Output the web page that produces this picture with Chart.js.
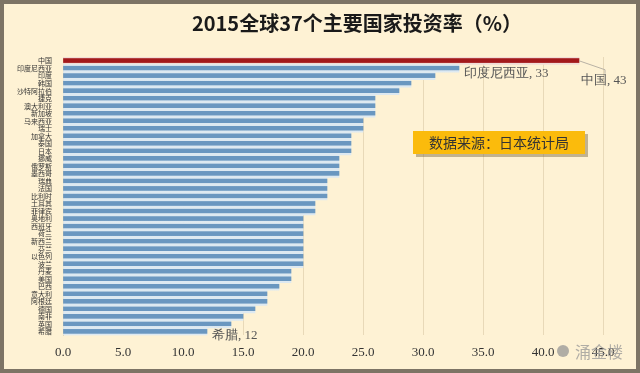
<!DOCTYPE html>
<html>
<head>
<meta charset="utf-8">
<script src="https://cdn.jsdelivr.net/npm/chart.js@4.4.1/dist/chart.umd.min.js"></script>
<style>
  html, body { margin: 0; padding: 0; background: #fef2d4; }
  #wrap { width: 640px; height: 373px; position: relative; }
</style>
</head>
<body>
<div id="wrap"><canvas id="barChart"></canvas></div>
<script>
const countries = ['中国', '印度尼西亚', '印度', '韩国', '沙特阿拉伯', '捷克', '澳大利亚', '新加坡', '马来西亚', '瑞士',
  '加拿大', '泰国', '日本', '挪威', '俄罗斯', '墨西哥', '瑞典', '法国', '比利时', '土耳其',
  '菲律宾', '奥地利', '西班牙', '荷兰', '新西兰', '芬兰', '以色列', '波兰', '丹麦', '美国',
  '巴西', '意大利', '阿根廷', '德国', '南非', '英国', '希腊']
const investRate = [43, 33, 31, 29, 28, 26, 26, 26, 25, 25,
  24, 24, 24, 23, 23, 23, 22, 22, 22, 21,
  21, 20, 20, 20, 20, 20, 20, 20, 19, 19,
  18, 17, 17, 16, 15, 14, 12]
const xTicks = [0, 5, 10, 15, 20, 25, 30, 35, 40, 45]
const labelled = [0, 1, 36]   // bars that carry a data label

const serif = '"Liberation Serif", "DejaVu Serif", serif'
const cjk = '"Noto Sans CJK SC", sans-serif'

// cylinder-like fill: light edges, blue core
function barFill(context) {
  const chart = context.chart
  const red = context.dataIndex === 0
  const core = red ? '#a3191b' : '#6a97c0'
  const edge = red ? '#f1ddd6' : '#dde9f1'
  const y = chart.scales.y
  if (!chart.chartArea || !y) return core
  const c = y.getPixelForValue(context.dataIndex)
  const h = Math.abs(y.getPixelForValue(1) - y.getPixelForValue(0))
  const g = chart.ctx.createLinearGradient(0, c - h / 2, 0, c + h / 2)
  g.addColorStop(0, edge)
  g.addColorStop(0.12, edge)
  g.addColorStop(0.22, core)
  g.addColorStop(0.72, core)
  g.addColorStop(0.82, edge)
  g.addColorStop(1, edge)
  return g
}

const decor = {
  id: 'decor',
  beforeDraw(chart) {
    const ctx = chart.ctx
    ctx.save()
    ctx.fillStyle = '#fef2d4'
    ctx.fillRect(0, 0, chart.width, chart.height)
    ctx.strokeStyle = '#7d7465'
    ctx.lineWidth = 4
    ctx.strokeRect(2, 2, chart.width - 4, chart.height - 4)
    ctx.restore()
  },
  afterDraw(chart) {
    const ctx = chart.ctx
    const meta = chart.getDatasetMeta(0)
    ctx.save()
    // title
    ctx.fillStyle = '#1a1a1a'
    ctx.font = 'bold 20px ' + cjk
    ctx.textAlign = 'center'
    ctx.textBaseline = 'middle'
    ctx.fillText('2015全球37个主要国家投资率（%）', 357, 23)

    // data labels
    ctx.font = '13px ' + serif
    ctx.fillStyle = '#555'
    ctx.textAlign = 'left'
    const cn = meta.data[labelled[0]]
    ctx.strokeStyle = '#b9b2a5'
    ctx.lineWidth = 1
    ctx.beginPath()
    ctx.moveTo(cn.x, cn.y)
    ctx.lineTo(cn.x + 26, cn.y + 9)
    ctx.lineTo(cn.x + 26, cn.y + 13)
    ctx.stroke()
    ctx.fillText(countries[labelled[0]] + ', ' + investRate[labelled[0]], cn.x + 2, cn.y + 20)
    const id = meta.data[labelled[1]]
    ctx.fillText(countries[labelled[1]] + ', ' + investRate[labelled[1]], id.x + 5, id.y + 5)
    const gr = meta.data[labelled[2]]
    ctx.fillText(countries[labelled[2]] + ', ' + investRate[labelled[2]], gr.x + 5, gr.y + 4)

    // source box
    ctx.fillStyle = 'rgba(120,100,60,0.45)'
    ctx.fillRect(416, 134, 172, 23)
    ctx.fillStyle = '#fbbb0c'
    ctx.fillRect(413, 131, 172, 23)
    ctx.fillStyle = '#333'
    ctx.font = '14px ' + cjk
    ctx.textAlign = 'center'
    ctx.fillText('数据来源：日本统计局', 499, 143)

    // watermark
    ctx.fillStyle = 'rgba(150,150,150,0.75)'
    ctx.beginPath()
    ctx.arc(563, 351, 6, 0, Math.PI * 2)
    ctx.fill()
    ctx.font = '16px ' + cjk
    ctx.textAlign = 'left'
    ctx.fillText('涌金楼', 575, 352)
    ctx.restore()
  }
}

const chart = new Chart(document.getElementById('barChart'), {
  type: 'bar',
  data: {
    labels: countries,
    datasets: [{
      data: investRate,
      backgroundColor: barFill,
      barPercentage: 1,
      categoryPercentage: 1,
      borderWidth: 0
    }]
  },
  options: {
    indexAxis: 'y',
    responsive: true,
    maintainAspectRatio: false,
    animation: false,
    layout: { padding: { top: 57, left: 3, right: 37, bottom: 4 } },
    plugins: {
      legend: { display: false },
      tooltip: { enabled: false }
    },
    scales: {
      x: {
        min: 0,
        max: 45,
        afterBuildTicks(scale) { scale.ticks = xTicks.map(v => ({ value: v })) },
        grid: { color: 'rgba(214,196,160,0.55)', drawTicks: false },
        border: { display: false },
        ticks: {
          padding: 9,
          color: '#333',
          font: { family: serif, size: 13 },
          callback: v => Number(v).toFixed(1)
        }
      },
      y: {
        afterFit(scale) { scale.width = 60 },
        grid: { display: false },
        border: { color: 'rgba(214,196,160,0.8)' },
        ticks: {
          autoSkip: false,
          padding: 3,
          color: '#333',
          font: { family: cjk, size: 7 }
        }
      }
    }
  },
  plugins: [decor]
})
</script>
</body>
</html>
